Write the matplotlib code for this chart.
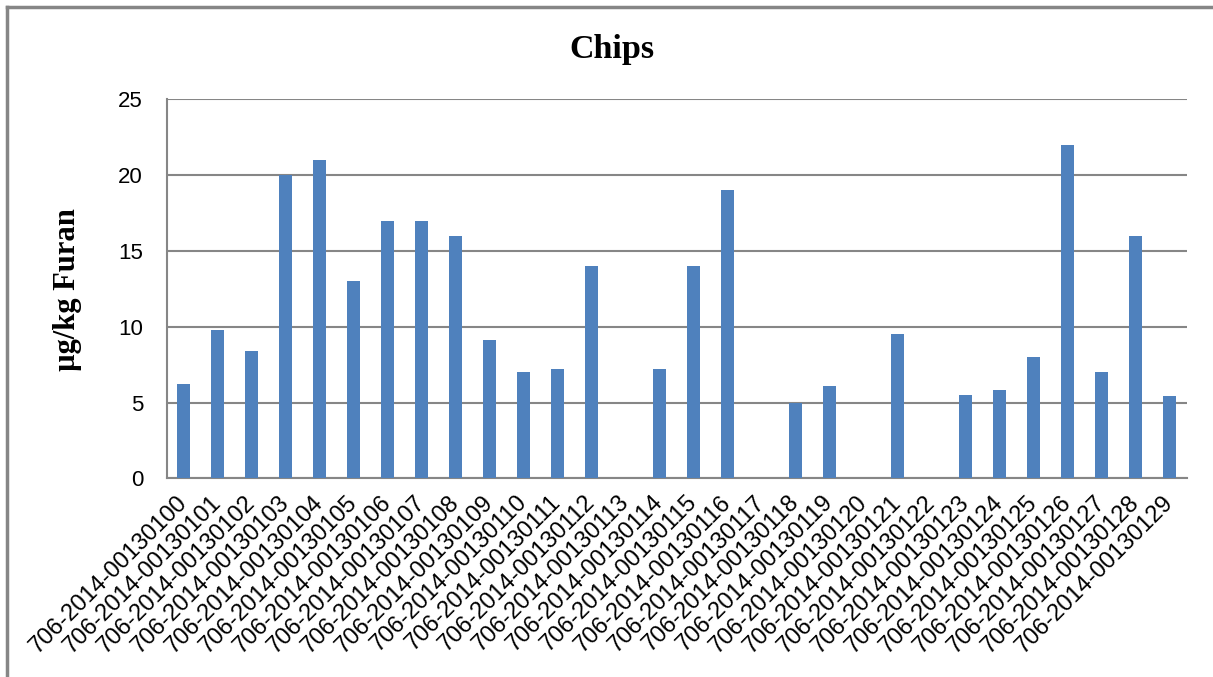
import matplotlib
matplotlib.use('Agg')
import matplotlib.pyplot as plt
from matplotlib.lines import Line2D

# Furan content per chips sample (µg/kg); 0 = not detected / no bar
samples = ['706-2014-001301%02d' % i for i in range(30)]
furan = [6.2, 9.8, 8.4, 20, 21, 13, 17, 17, 16, 9.1,
         7.0, 7.2, 14, 0, 7.2, 14, 19, 0, 5.0, 6.1,
         0, 9.5, 0, 5.5, 5.8, 8.0, 22, 7.0, 16, 5.4]
y_ticks = [0, 5, 10, 15, 20, 25]

BAR = '#4F81BD'
GRID = '#868686'

fig = plt.figure(figsize=(12.13, 6.77), dpi=100)
ax = fig.add_axes([0.1374, 0.2935, 0.8409, 0.5598])

x = range(len(samples))
ax.bar(x, furan, width=0.39, color=BAR, zorder=3)

ax.set_xlim(-0.5, len(samples) - 0.5)
ax.set_ylim(0, 25)
ax.set_yticks(y_ticks)
ax.yaxis.grid(True, color=GRID, linewidth=1.5, zorder=0)

for side in ('top', 'right'):
    ax.spines[side].set_visible(False)
for side in ('left', 'bottom'):
    ax.spines[side].set_color(GRID)
    ax.spines[side].set_linewidth(1.5)

ax.tick_params(axis='y', length=0, pad=17, labelsize=16)
ax.tick_params(axis='x', length=0, pad=15)
for lab in ax.get_yticklabels():
    lab.set_fontfamily('Liberation Sans')

ax.set_xticks(list(x))
ax.set_xticklabels(samples, rotation=45, ha='right', va='center',
                   rotation_mode='anchor', fontsize=17,
                   fontfamily='Liberation Sans')

fig.text(0.5045, 1 - 58 / 677, 'Chips', ha='center', va='baseline',
         fontsize=24.5, fontweight='bold', fontfamily='Liberation Serif')
fig.text(67 / 1213, 1 - 290 / 677, 'µg/kg Furan', rotation=90,
         ha='center', va='center', fontsize=22, fontweight='bold',
         fontfamily='Liberation Serif')

# chart border (top and left edges)
fig.add_artist(Line2D([7 / 1213, 1], [1 - 6.5 / 677, 1 - 6.5 / 677],
                      color=GRID, linewidth=2.5, transform=fig.transFigure))
fig.add_artist(Line2D([7 / 1213, 7 / 1213], [0, 1 - 6.5 / 677],
                      color=GRID, linewidth=2.5, transform=fig.transFigure))

fig.savefig('out.png', dpi=100)
